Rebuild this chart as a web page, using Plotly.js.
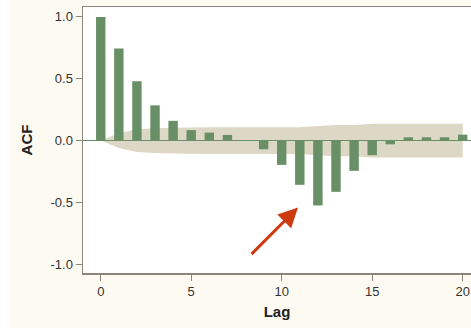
<!DOCTYPE html>
<html>
<head>
<meta charset="utf-8">
<script src="https://cdn.plot.ly/plotly-3.0.1.min.js"></script>
<style>html,body{margin:0;padding:0;background:#fdfaf2;}#chart{width:471px;height:328px;}</style>
</head>
<body>
<div id="chart"></div>
<script>
// Lags and autocorrelation values
const lags = [0,1,2,3,4,5,6,7,8,9,10,11,12,13,14,15,16,17,18,19,20];
const acf  = [1.0,0.745,0.48,0.285,0.16,0.085,0.065,0.046,0.0,-0.07,-0.196,-0.357,-0.524,-0.414,-0.244,-0.118,-0.03,0.027,0.027,0.027,0.048];
// Two standard-error confidence limits
const bandUpper = [0,0.06,0.092,0.1,0.105,0.107,0.108,0.108,0.108,0.108,0.108,0.108,0.118,0.126,0.126,0.137,0.137,0.137,0.137,0.137,0.137];
const bandLower = bandUpper.map(v => -v);
// Tick labels
const yTicks = [-1.0,-0.5,0.0,0.5,1.0];
const yTickText = ["-1.0","-0.5","0.0","0.5","1.0"];
const xTicks = [0,5,10,15,20];
// Arrow annotation (head and tail, in data units)
const arrowHead = {x: 10.9, y: -0.54};
const arrowTail = {x: 8.25, y: -0.93};

const bandColor = '#dcd8c5';
const barColor = '#688f65';
const axisColor = '#8c857a';
const font = 'Liberation Sans, Arial, sans-serif';

// Confidence band as a filled path in data coordinates, kept below the bars
let bandPath = '';
lags.forEach((l, i) => { bandPath += (i === 0 ? 'M' : 'L') + l + ',' + bandUpper[i]; });
for (let i = lags.length - 1; i >= 0; i--) { bandPath += 'L' + lags[i] + ',' + bandLower[i]; }
bandPath += 'Z';

const data = [
  {x: lags, y: acf, type: 'bar', width: 0.52, marker: {color: barColor, line: {width: 0}}, showlegend: false}
];

const layout = {
  width: 471, height: 328,
  margin: {l: 83, r: 0, t: 7, b: 55, pad: 0},
  paper_bgcolor: '#fdfaf2',
  plot_bgcolor: '#ffffff',
  showlegend: false,
  font: {family: font, size: 13, color: '#333333'},
  xaxis: {
    range: [-0.98, 20.46], tickvals: xTicks, ticktext: xTicks.map(String),
    ticks: 'outside', ticklen: 6, tickwidth: 1, tickcolor: axisColor,
    showline: true, linecolor: axisColor, linewidth: 1.5, mirror: true,
    showgrid: false, zeroline: false,
    tickfont: {family: font, size: 13, color: '#333333'},
    title: {text: '<b>Lag</b>', font: {family: font, size: 15, color: '#222222'}, standoff: 8}
  },
  yaxis: {
    range: [-1.07, 1.08], tickvals: yTicks, ticktext: yTickText,
    ticks: 'outside', ticklen: 6, tickwidth: 1, tickcolor: axisColor,
    showline: true, linecolor: axisColor, linewidth: 1.5, mirror: false,
    showgrid: false, zeroline: true, zerolinecolor: barColor, zerolinewidth: 1,
    tickfont: {family: font, size: 13, color: '#333333'},
    title: {text: '<b>ACF</b>', font: {family: font, size: 15, color: '#222222'}, standoff: 14}
  },
  shapes: [
    {type: 'rect', xref: 'paper', yref: 'paper', x0: -0.25, x1: -0.188, y0: -0.3, y1: 1.1, fillcolor: '#ffffff', line: {width: 0}, layer: 'below'},
    {type: 'path', xref: 'x', yref: 'y', path: bandPath, fillcolor: bandColor, line: {width: 0}, layer: 'below'}
  ],
  annotations: [
    {x: arrowHead.x, y: arrowHead.y, ax: arrowTail.x, ay: arrowTail.y, xref: 'x', yref: 'y', axref: 'x', ayref: 'y',
     text: '', showarrow: true, arrowhead: 2, arrowsize: 1.3, arrowwidth: 3, arrowcolor: '#cc3a0e'}
  ]
};

Plotly.newPlot('chart', data, layout, {displayModeBar: false, staticPlot: true});
</script>
</body>
</html>
